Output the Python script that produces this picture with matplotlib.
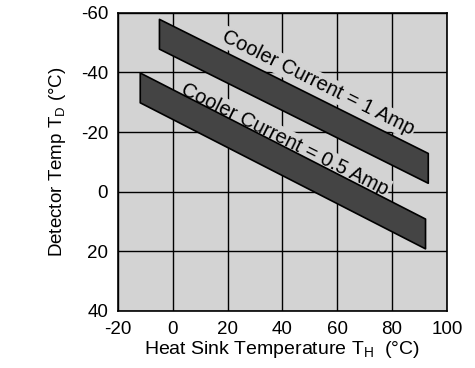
import matplotlib.pyplot as plt

plt.rcParams['font.family'] = ['Liberation Sans', 'DejaVu Sans']
plt.rcParams['mathtext.fontset'] = 'custom'
plt.rcParams['mathtext.rm'] = 'Liberation Sans'
plt.rcParams['axes.unicode_minus'] = False

# band end points (heat sink temp, detector temp)
band_1amp_x = [-5, 93]
band_1amp_top = [-58, -13]
band_1amp_bottom = [-48, -3]

band_05amp_x = [-12, 92]
band_05amp_top = [-40, 9]
band_05amp_bottom = [-30, 19]

x_ticks = [-20, 0, 20, 40, 60, 80, 100]
y_ticks = [-60, -40, -20, 0, 20, 40]

bg = '#d3d3d3'
band_col = '#444444'

fig = plt.figure(figsize=(4.75, 3.68), dpi=100)
ax = fig.add_axes([0.248, 0.155, 0.693, 0.81])
ax.set_facecolor(bg)

ax.set_xlim(-20, 100)
ax.set_ylim(40, -60)
ax.set_xticks(x_ticks)
ax.set_yticks(y_ticks)
ax.tick_params(length=0, labelsize=13.5, pad=7)
ax.grid(True, color='black', linewidth=1.0, zorder=1)
ax.set_axisbelow(True)
for s in ax.spines.values():
    s.set_linewidth(1.2)

ax.fill_between(band_1amp_x, band_1amp_top, band_1amp_bottom,
                facecolor=band_col, edgecolor='black', linewidth=1.2, zorder=3)
ax.fill_between(band_05amp_x, band_05amp_top, band_05amp_bottom,
                facecolor=band_col, edgecolor='black', linewidth=1.2, zorder=3)

box = dict(facecolor=bg, edgecolor='none', pad=1)
ax.text(53, -36.5, 'Cooler Current = 1 Amp', rotation=-26.5, rotation_mode='anchor',
        ha='center', va='center', fontsize=14.5, bbox=box, zorder=2)
ax.text(41, -17.5, 'Cooler Current = 0.5 Amp', rotation=-26.5, rotation_mode='anchor',
        ha='center', va='center', fontsize=14.5, bbox=box, zorder=2)

ax.set_xlabel('Heat Sink Temperature T$_\\mathrm{H}$  (°C)', fontsize=14, labelpad=1)
ax.set_ylabel('Detector Temp T$_\\mathrm{D}$ (°C)', fontsize=13.5, labelpad=9)

plt.savefig('out.png', dpi=100)
